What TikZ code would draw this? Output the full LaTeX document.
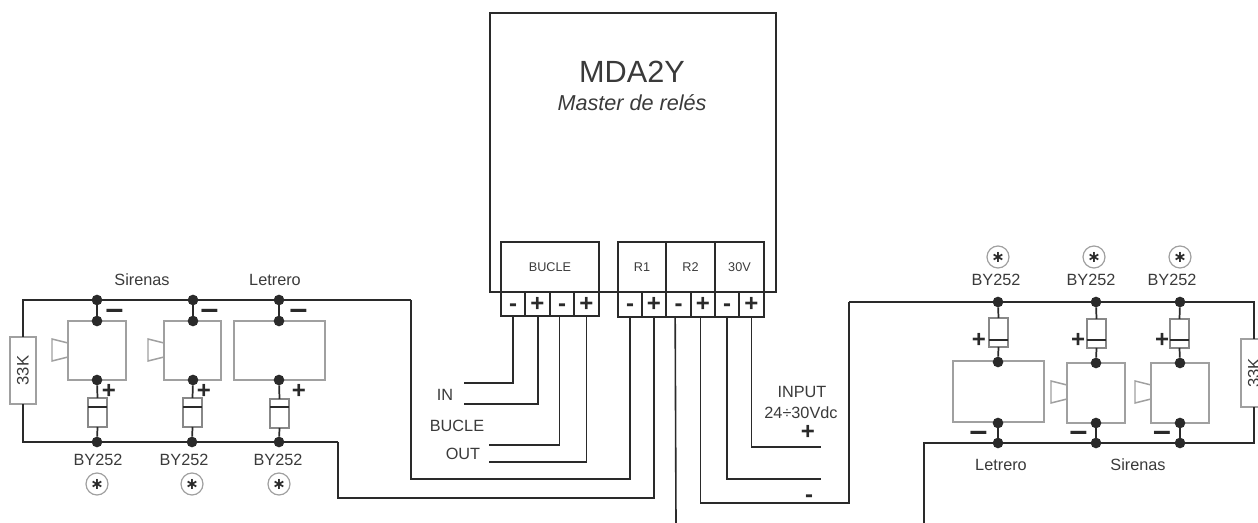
\documentclass[tikz,border=0pt]{standalone}
\usepackage{fontspec}
\setmainfont{Liberation Sans}
\newfontfamily\djv{DejaVu Sans}
\definecolor{wirec}{HTML}{2A2A2A}
\definecolor{greyc}{HTML}{A0A0A0}
\definecolor{textc}{HTML}{3A3A3A}
\newcommand{\rectn}[6]{% style, name, x1, y1, x2, y2
  \pgfmathsetmacro{\cxx}{(#3+#5)/2}\pgfmathsetmacro{\cyy}{(#4+#6)/2}%
  \pgfmathsetmacro{\www}{(#5-#3)*0.75}\pgfmathsetmacro{\hhh}{(#6-#4)*0.75}%
  \node[#1,minimum width=\www pt,minimum height=\hhh pt] (#2) at (\cxx,\cyy) {};}
\newcommand{\rectt}[7]{% style, name, x1, y1, x2, y2, text
  \pgfmathsetmacro{\cxx}{(#3+#5)/2}\pgfmathsetmacro{\cyy}{(#4+#6)/2}%
  \pgfmathsetmacro{\www}{(#5-#3)*0.75}\pgfmathsetmacro{\hhh}{(#6-#4)*0.75}%
  \node[#1,minimum width=\www pt,minimum height=\hhh pt] (#2) at (\cxx,\cyy) {#7};}
\newcommand{\hy}{\vphantom{+}-}
\newcommand{\mn}{\vphantom{+}–}
\tikzset{
  wire/.style={draw=wirec,line width=1.3pt},
  thinwire/.style={draw=wirec,line width=1.2pt},
  heavybox/.style={draw=wirec,line width=1.5pt,inner sep=0pt,outer sep=0pt,rectangle},
  labbox/.style={draw=wirec,line width=1.2pt,inner sep=0pt,outer sep=0pt,rectangle,text=textc,font=\fontsize{9.5}{10}\selectfont},
  termcell/.style={draw=wirec,line width=1.1pt,inner sep=0pt,outer sep=0pt,rectangle,text=wirec,font=\fontsize{18}{18}\selectfont\bfseries},
  appbox/.style={draw=greyc,line width=1.1pt,inner sep=0pt,outer sep=0pt,rectangle},
  diodebox/.style={draw=greyc!85!black,line width=1.1pt,inner sep=0pt,outer sep=0pt,rectangle},
  resbox/.style={draw=greyc,line width=1.1pt,fill=white,inner sep=0pt,outer sep=0pt,rectangle,text=textc,font=\fontsize{12.5}{13}\selectfont},
  junc/.style={circle,fill=wirec,inner sep=0pt,outer sep=0pt,minimum size=8pt},
  lab/.style={inner sep=0pt,text=textc,font=\fontsize{12.2}{13}\selectfont},
  minussign/.style={inner sep=0pt,text=wirec,font=\fontsize{24}{24}\selectfont\bfseries},
  plussign/.style={inner sep=0pt,text=wirec,font=\fontsize{18}{18}\selectfont\bfseries},
  starc/.style={circle,draw=greyc,line width=0.9pt,inner sep=0pt,minimum size=16.5pt,text=wirec,font=\djv\bfseries\fontsize{12}{12}\selectfont},
  hornsh/.style={draw=greyc,line width=1.1pt},
  barsh/.style={draw=wirec,line width=2.2pt},
}
\begin{document}
\begin{tikzpicture}[x=0.75pt,y=-0.75pt]
\useasboundingbox (0,0) rectangle (1258,523);
\clip (0,0) rectangle (1258,523);

% --- main module
\rectn{heavybox}{main}{490}{13}{776}{292}
\node[inner sep=0pt,text=textc,font=\fontsize{23}{23}\selectfont] (title) at (632,72) {MDA2Y};
\node[inner sep=0pt,text=textc,font=\fontsize{16.2}{16}\selectfont\itshape] (subtitle) at (632,103) {Master de relés};

\rectt{labbox}{bucle}{501}{242}{599}{292}{BUCLE}
\rectt{labbox}{rone}{618}{242}{666}{292}{R1}
\rectt{labbox}{rtwo}{666}{242}{715}{292}{R2}
\rectt{labbox}{tv}{715}{242}{764}{292}{30V}

\rectt{termcell}{ta}{501}{292}{525}{316}{\hy}
\rectt{termcell}{tb}{525}{292}{550}{316}{+}
\rectt{termcell}{tc}{550}{292}{574}{316}{\hy}
\rectt{termcell}{td}{574}{292}{599}{316}{+}
\rectt{termcell}{te}{618}{292}{642}{317}{\hy}
\rectt{termcell}{tf}{642}{292}{666}{317}{+}
\rectt{termcell}{tg}{666}{292}{691}{317}{\hy}
\rectt{termcell}{th}{691}{292}{715}{317}{+}
\rectt{termcell}{ti}{715}{292}{739}{317}{\hy}
\rectt{termcell}{tj}{739}{292}{764}{317}{+}

% free wire ends
\coordinate (ea) at (464,383);
\coordinate (eb) at (464,404);
\coordinate (ec) at (489,445);
\coordinate (ed) at (489,462);
\coordinate (eg) at (676,523);
\coordinate (ei) at (821,479);
\coordinate (ej) at (821,447);

\draw[thinwire] (ta.south) |- (ea);
\draw[thinwire] ([xshift=0.5]tb.south) |- (eb);
\draw[thinwire] ([xshift=-2]tc.south) |- (ec);
\draw[thinwire] (td.south) |- (ed);
\draw[thinwire] ([xshift=-2.5]tg.south) -- (eg);
\draw[thinwire] (ti.south) |- (ei);
\draw[thinwire] (tj.south) |- (ej);

% --- left group
\rectn{appbox}{lboxa}{68}{321}{126}{380}
\rectn{appbox}{lboxb}{164}{321}{221}{380}
\rectn{appbox}{lboxc}{234}{321}{325}{380}
\draw[hornsh] (68,343) -- (52,339) -- (52,361) -- (68,357);
\draw[hornsh] (164,343) -- (148,339) -- (148,361) -- (164,357);

\node[junc] (ltja) at (97,300) {};
\node[junc] (ltjb) at (193,300) {};
\node[junc] (ltjc) at (279,300) {};
\node[junc] (lmja) at (97,321) {};
\node[junc] (lmjb) at (193,321) {};
\node[junc] (lmjc) at (279,321) {};
\node[junc] (lnja) at (97,380) {};
\node[junc] (lnjb) at (193,380) {};
\node[junc] (lnjc) at (279,380) {};
\node[junc] (lbja) at (97,442) {};
\node[junc] (lbjb) at (192,442) {};
\node[junc] (lbjc) at (279,442) {};
\rectn{diodebox}{lda}{88}{398}{107}{427}
\rectn{diodebox}{ldb}{183}{398}{202}{427}
\rectn{diodebox}{ldc}{270}{399}{289}{428}
\draw[barsh] (lda.west |- 0,407) -- (lda.east |- 0,407);
\draw[barsh] (ldb.west |- 0,407) -- (ldb.east |- 0,407);
\draw[barsh] (ldc.west |- 0,407) -- (ldc.east |- 0,407);
\rectt{resbox}{lres}{10}{337}{36}{404}{\rotatebox{90}{33K}}

\foreach \a/\b in {ltja/lmja,ltjb/lmjb,ltjc/lmjc}{\draw[wire] (\a) -- (\b);}
\draw[wire] (lnja) -- (lda.north);
\draw[wire] (lnjb) -- (ldb.north);
\draw[wire] (lnjc) -- (ldc.north);
\draw[wire] (lda.south) -- (lbja);
\draw[wire] (ldb.south) -- (lbjb);
\draw[wire] (ldc.south) -- (lbjc);
\coordinate (lca) at (411,300);
\coordinate (lcb) at (338,442);
\draw[wire] (lres.north) |- (ltja.center) -- (ltjb.center) -- (ltjc.center) -- (lca);
\draw[thinwire] (lca) |- (411,479) -| (te.south);
\draw[wire] (lres.south) |- (lbja.center) -- (lbjb.center) -- (lbjc.center) -- (lcb);
\draw[thinwire] (lcb) |- (338,498) -| (tf.south);

\foreach \n/\x in {lma/114.5,lmb/209.5,lmc/298.5}{\node[minussign] (\n) at (\x,310) {\mn};}
\foreach \n/\x in {lpa/109,lpb/204,lpc/299}{\node[plussign] (\n) at (\x,391) {+};}
\node[lab] (lsir) at (142,280) {Sirenas};
\node[lab] (llet) at (275,280) {Letrero};
\node[lab] (lbya) at (98,460) {BY252};
\node[lab] (lbyb) at (184,460) {BY252};
\node[lab] (lbyc) at (278,460) {BY252};
\node[starc] (lsa) at (97,484) {∗};
\node[starc] (lsb) at (192,484) {∗};
\node[starc] (lsc) at (279,484) {∗};

% --- centre labels
\node[lab] (lin) at (445,395) {IN};
\node[lab] (lbu) at (457,426) {BUCLE};
\node[lab] (lout) at (463,454) {OUT};
\node[lab] (linp) at (802,392) {INPUT};
\node[lab] (lvdc) at (801,413) {24÷30Vdc};
\node[plussign] (lplus) at (808,432) {+};
\node[inner sep=0pt,text=wirec,font=\fontsize{18}{18}\selectfont\bfseries] (lminus) at (809,495) {\hy};

% --- right group
\rectn{appbox}{rboxa}{953}{361}{1044}{422}
\rectn{appbox}{rboxb}{1067}{363}{1125}{423}
\rectn{appbox}{rboxc}{1151}{363}{1209}{423}
\draw[hornsh] (1067,385) -- (1051,381) -- (1051,403) -- (1067,399);
\draw[hornsh] (1151,385) -- (1135,381) -- (1135,403) -- (1151,399);

\node[junc] (rtja) at (998,302) {};
\node[junc] (rtjb) at (1096,302) {};
\node[junc] (rtjc) at (1180,302) {};
\node[junc] (rmja) at (998,362) {};
\node[junc] (rmjb) at (1096,363) {};
\node[junc] (rmjc) at (1180,363) {};
\node[junc] (rnja) at (998,423) {};
\node[junc] (rnjb) at (1096,423) {};
\node[junc] (rnjc) at (1180,423) {};
\node[junc] (rbja) at (998,443) {};
\node[junc] (rbjb) at (1096,443) {};
\node[junc] (rbjc) at (1180,443) {};
\rectn{diodebox}{rda}{989}{318}{1008}{347}
\rectn{diodebox}{rdb}{1087}{319}{1106}{348}
\rectn{diodebox}{rdc}{1170}{319}{1189}{348}
\draw[barsh] (rda.west |- 0,340) -- (rda.east |- 0,340);
\draw[barsh] (rdb.west |- 0,340) -- (rdb.east |- 0,340);
\draw[barsh] (rdc.west |- 0,340) -- (rdc.east |- 0,340);
\rectn{resbox}{rres}{1241}{339}{1267}{407}
\node[inner sep=0pt,text=textc,font=\fontsize{12.5}{13}\selectfont,rotate=90] (rrest) at (1254,373) {33K};

\draw[wire] (rtja) -- (rda.north);
\draw[wire] (rtjb) -- (rdb.north);
\draw[wire] (rtjc) -- (rdc.north);
\draw[wire] (rda.south) -- (rmja);
\draw[wire] (rdb.south) -- (rmjb);
\draw[wire] (rdc.south) -- (rmjc);
\draw[wire] (rnja) -- (rbja);
\draw[wire] (rnjb) -- (rbjb);
\draw[wire] (rnjc) -- (rbjc);
\coordinate (rca) at (849,302);
\coordinate (rcb) at (924,443);
\coordinate (rcc) at (924,523);
\coordinate (rcd) at (1254,302);
\coordinate (rce) at (1254,443);
\draw[thinwire] ([xshift=-2]th.south) |- (849,503) -- (rca);
\draw[wire] (rca) -- (rtja.center) -- (rtjb.center) -- (rtjc.center) -- (rcd) -- (rcd |- rres.north);
\draw[wire] (rcd |- rres.south) -- (rce) -- (rbjc.center) -- (rbjb.center) -- (rbja.center) -- (rcb) -- (rcc);

\foreach \n/\x in {rpa/979,rpb/1078,rpc/1162}{\node[plussign] (\n) at (\x,340) {+};}
\foreach \n/\x in {rma/978.5,rmb/1078.5,rmc/1162}{\node[minussign] (\n) at (\x,432) {\mn};}
\node[lab] (rbya) at (996,280) {BY252};
\node[lab] (rbyb) at (1091,280) {BY252};
\node[lab] (rbyc) at (1172,280) {BY252};
\node[starc] (rsa) at (998,257) {∗};
\node[starc] (rsb) at (1094,257) {∗};
\node[starc] (rsc) at (1180,257) {∗};
\node[lab] (rlet) at (1001,465) {Letrero};
\node[lab] (rsir) at (1138,465) {Sirenas};
\end{tikzpicture}
\end{document}
